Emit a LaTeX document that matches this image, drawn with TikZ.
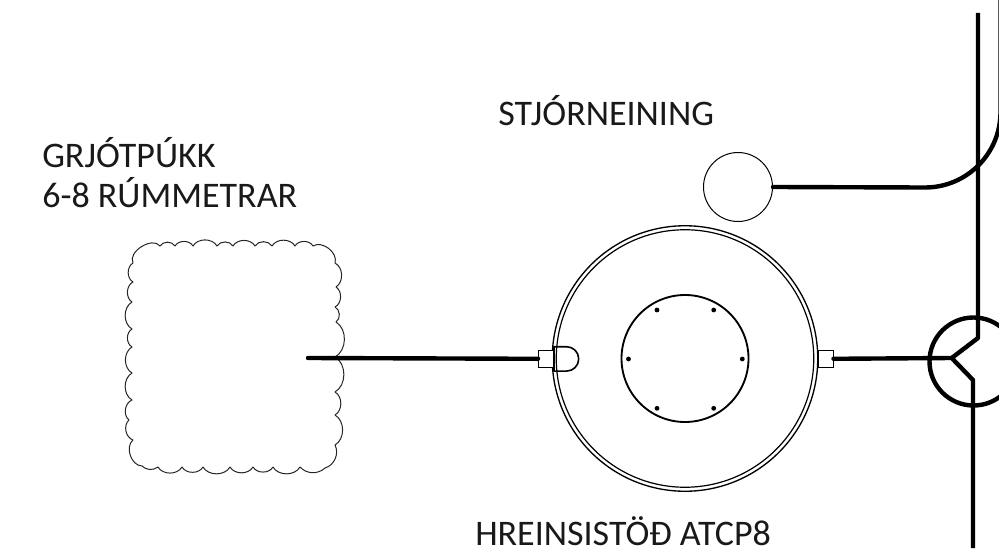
\documentclass[tikz,border=0pt]{standalone}
\usepackage{fontspec}
\setmainfont{Carlito}
\tikzset{
  lbl/.style={inner sep=0pt,font=\fontsize{27pt}{30pt}\selectfont,text=black!90,align=left},
  thickline/.style={line width=3.3pt,line cap=round,line join=round},
  ringo/.style={circle,draw,inner sep=0pt,line width=1pt},
  stub/.style={draw,line width=0.75pt,inner sep=0pt,fill=white},
  dot/.style={circle,fill=black,inner sep=0pt,minimum size=3.6pt},
  cloudline/.style={line width=0.75pt,line join=round,draw=black!85}
}
\begin{document}
\begin{tikzpicture}[x=0.75pt,y=-0.75pt]
\useasboundingbox (0,0) rectangle (999,560);
\clip (0,0) rectangle (999,560);
% labels
\node[lbl,anchor=west] (lstj) at (498,111) {STJÓRNEINING};
\node[lbl,anchor=west] (lgr) at (42,173) {GRJÓTPÚKK\\6-8 RÚMMETRAR};
\node[lbl,anchor=west] (lhr) at (475,531) {HREINSISTÖÐ ATCP8};
% cloud
\draw[cloudline]
 (160,246) to[bend left=60] (175,246) to[bend left=60] (193,246) to[bend left=60] (217,246)
 to[bend left=60] (233,246) to[bend left=60] (255,246) to[bend left=60] (272,246)
 to[bend left=60] (295,246) to[bend left=60] (313,246) to[bend left=70] (335,263)
 to[bend left=60] (336,287) to[bend left=60] (335,307) to[bend left=60] (336,322)
 to[bend left=60] (335,357) to[bend left=60] (335,392) to[bend left=60] (335,415)
 to[bend left=60] (335,445) to[bend left=50] (325,468) to[bend left=45] (300,467)
 to[bend left=60] (273,467) to[bend left=60] (253,467) to[bend left=60] (230,467)
 to[bend left=60] (203,467) to[bend left=60] (182,467) to[bend left=60] (158,467)
 to[bend left=40] (142,466) to[bend left=70] (133,440) to[bend left=60] (129,420)
 to[bend left=60] (132,400) to[bend left=60] (132,373) to[bend left=60] (132,347)
 to[bend left=60] (132,329) to[bend left=60] (132,302) to[bend left=60] (133,282)
 to[bend left=60] (133,263) to[bend left=85] (160,246);
% main tank
\node[ringo,minimum size=265.5pt*0.75] (tank) at (685,358.5) {};
\node[circle,draw,inner sep=0pt,line width=0.9pt,minimum size=257.5pt*0.75] (tankin) at (685,358.5) {};
\node[circle,draw,inner sep=0pt,line width=1.4pt,minimum size=127pt*0.75] (core) at (685,358.5) {};
\node[dot] (d1) at (657,310) {};
\node[dot] (d2) at (713.7,310) {};
\node[dot] (d3) at (628.5,359) {};
\node[dot] (d4) at (742.3,359) {};
\node[dot] (d5) at (657,408.3) {};
\node[dot] (d6) at (713.7,408.3) {};
% stubs
\node[stub,minimum width=15pt*0.75,minimum height=17.5pt*0.75] (inlet) at (546,358.8) {};
\node[stub,minimum width=15pt*0.75,minimum height=17.5pt*0.75] (outlet) at (825.5,358.8) {};
% baffle
\draw[line width=1.2pt,line join=round] (554,346.7) -- (566.5,346.7) arc[start angle=-90,end angle=90,radius=12.2] -- (554,371.1) -- cycle;
% control
\node[circle,draw,inner sep=0pt,line width=0.75pt,minimum size=69pt*0.75] (ctrl) at (738,187) {};
\coordinate (cloudend) at (308,358);
\coordinate (junc) at (951.7,358);
\coordinate (topend) at (978,13);
\coordinate (botend) at (973,548);
\node[circle,draw,inner sep=0pt,line width=3.3pt,minimum size=88pt*0.75] (well) at (973.5,361.5) {};
% pipes
\draw[thickline] (cloudend) -- (inlet.west);
\draw[thickline] (outlet.east) -- (junc);
\draw[thickline,line cap=butt] (topend) -- (978,338) -- (junc) -- (973,380) -- (botend);
\draw[thickline] (ctrl.east) -- (925,187.5) arc[start angle=90,end angle=0,radius=75.5] -- (1000.5,0);
\end{tikzpicture}
\end{document}
